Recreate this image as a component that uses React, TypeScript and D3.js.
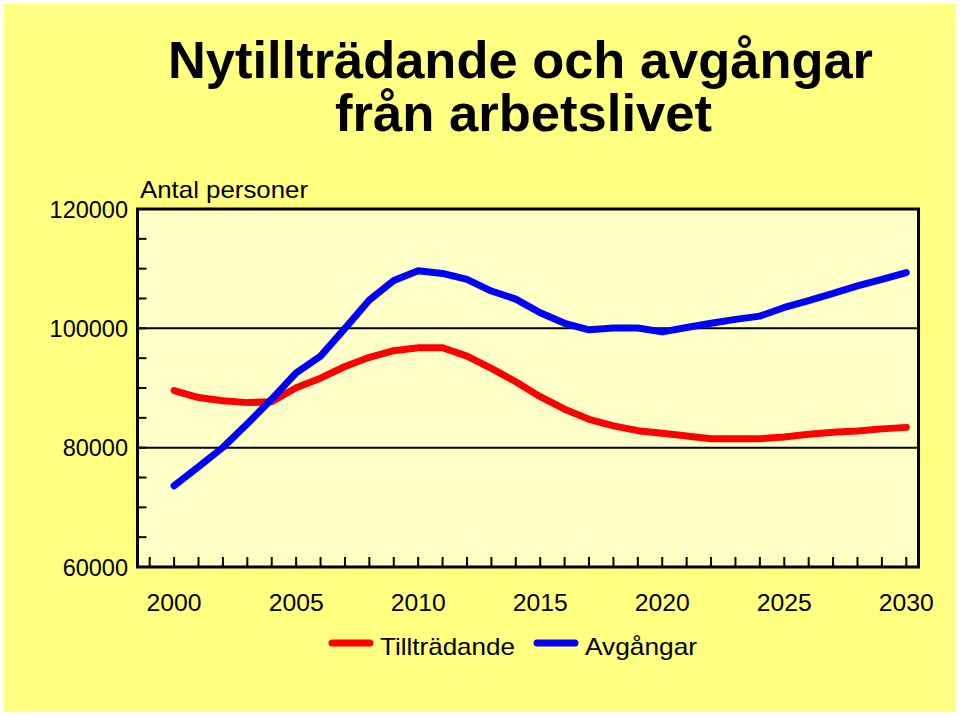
import React from "react";
import * as d3 from "d3";

const years: number[] = d3.range(2000, 2031);
const tilltradande: number[] = [
  89550, 88400, 87850, 87550, 87700, 90050, 91650, 93600, 95150, 96250, 96750,
  96750, 95350, 93300, 91050, 88550, 86450, 84750, 83650, 82850, 82400, 81950,
  81500, 81500, 81500, 81800, 82250, 82600, 82800, 83150, 83400,
];
const avgangar: number[] = [
  73600, 76800, 80050, 84000, 88150, 92550, 95350, 100000, 104750, 108000, 109650,
  109200, 108200, 106250, 104900, 102600, 100850, 99750, 100050, 100050, 99400, 100150,
  100850, 101500, 102050, 103500, 104650, 105850, 107100, 108200, 109350,
];
const yTickLabels: number[] = [60000, 80000, 100000, 120000];
const xTickLabels: number[] = [2000, 2005, 2010, 2015, 2020, 2025, 2030];
const seriesNames: string[] = ["Tillträdande", "Avgångar"];
const seriesColors: string[] = ["#ff0000", "#0000ff"];

const FONT = "'Liberation Sans', Arial, Helvetica, sans-serif";

export default function App() {
  const W = 960, H = 716;
  const L = 137.5, R = 918.5, T = 209, B = 567;
  const x = d3.scaleLinear().domain([1998.5, 2030.5]).range([L, R]);
  const y = d3.scaleLinear().domain([60000, 120000]).range([B, T]);
  const line = d3.line<number>().x((_, i) => x(years[i])).y((v) => y(v));
  const minorY = d3.range(60000, 120001, 5000);
  const xTicks = d3.range(1999, 2031);
  const series = [tilltradande, avgangar];
  const legendX = [332, 537];
  const legendW = [135, 112];

  return (
    <svg width={W} height={H} style={{ position: "absolute", left: 0, top: 0 }} fontFamily={FONT}>
      <rect x={0} y={0} width={W} height={H} fill="#ffffff" />
      <rect x={4} y={4} width={W - 8} height={H - 8} fill="#ffff80" />
      <text x={520.5} y={78} textAnchor="middle" fontSize={52} fontWeight="bold" textLength={705} lengthAdjust="spacingAndGlyphs">
        Nytillträdande och avgångar
      </text>
      <text x={523.5} y={131} textAnchor="middle" fontSize={52} fontWeight="bold" textLength={377} lengthAdjust="spacingAndGlyphs">
        från arbetslivet
      </text>
      <text x={140} y={198} fontSize={24} textLength={168} lengthAdjust="spacingAndGlyphs">Antal personer</text>

      <rect x={L} y={T} width={R - L} height={B - T} fill="#ffffc8" />
      {[80000, 100000].map((v) => (
        <line key={v} x1={L} x2={R} y1={y(v)} y2={y(v)} stroke="#000" strokeWidth={2} />
      ))}
      {minorY.map((v) => (
        <line key={"my" + v} x1={L} x2={L + 9} y1={y(v)} y2={y(v)} stroke="#000" strokeWidth={2} />
      ))}
      {xTicks.map((v) => (
        <line key={"xt" + v} x1={x(v)} x2={x(v)} y1={B} y2={B - 10} stroke="#000" strokeWidth={2} />
      ))}
      {series.map((s, i) => (
        <path key={i} d={line(s) || ""} fill="none" stroke={seriesColors[i]} strokeWidth={7} strokeLinecap="round" strokeLinejoin="round" />
      ))}
      <rect x={L} y={T} width={R - L} height={B - T} fill="none" stroke="#000" strokeWidth={3} />

      {yTickLabels.map((v) => (
        <text key={"yl" + v} x={128} y={y(v) + 8.5} textAnchor="end" fontSize={23.5}>
          {v}
        </text>
      ))}
      {xTickLabels.map((v) => (
        <text key={"xl" + v} x={x(v)} y={611} textAnchor="middle" fontSize={24} textLength={55} lengthAdjust="spacingAndGlyphs">
          {v}
        </text>
      ))}

      {seriesNames.map((n, i) => {
        const lx = legendX[i];
        return (
          <g key={n}>
            <line x1={lx} x2={lx + 38} y1={643} y2={643} stroke={seriesColors[i]} strokeWidth={7} strokeLinecap="round" />
            <text x={lx + 48} y={655} fontSize={24} textLength={legendW[i]} lengthAdjust="spacingAndGlyphs">{n}</text>
          </g>
        );
      })}
    </svg>
  );
}
